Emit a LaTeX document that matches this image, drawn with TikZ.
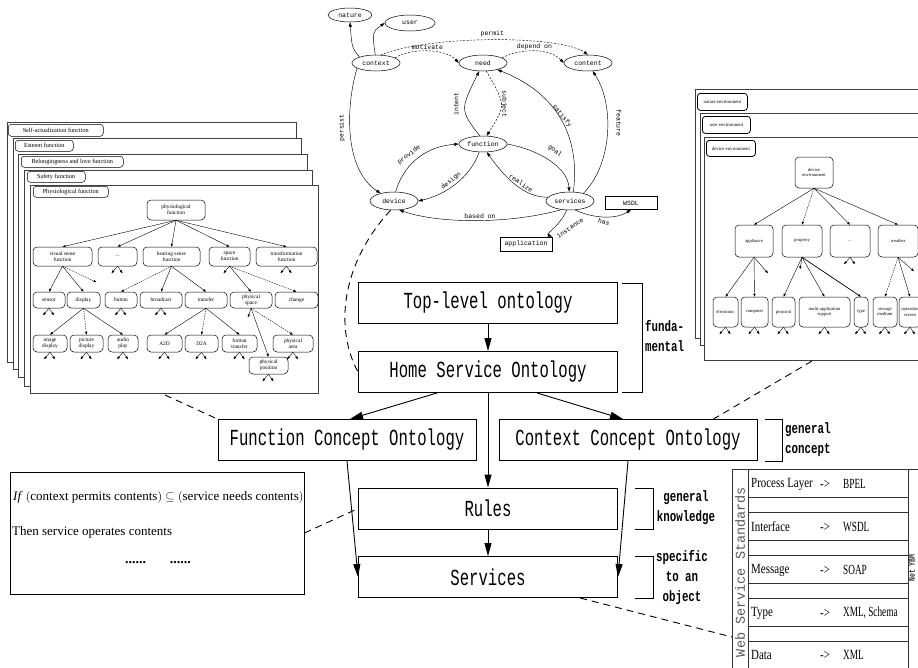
\documentclass[tikz,border=0pt]{standalone}
\usepackage{fontspec}
\setmainfont{Liberation Serif}
\newfontfamily\monoc[FakeStretch=0.68]{Liberation Mono}
\newfontfamily\monob[FakeStretch=0.72]{Liberation Mono Bold}
\newfontfamily\monot{Liberation Mono}
\newfontfamily\serc[FakeStretch=0.78]{Liberation Serif}
\newfontfamily\sercc[FakeStretch=0.66]{Liberation Serif}
\usetikzlibrary{arrows.meta,shapes.geometric}
\tikzset{
  mainbox/.style={draw, line width=0.9pt, minimum width=259pt, minimum height=41pt, inner sep=0pt, font=\monoc\fontsize{23}{25}\selectfont},
  arr/.style={line width=0.9pt, -{Triangle[length=13pt,width=7pt]}},
  brk/.style={line width=0.9pt},
  blbl/.style={font=\monob\fontsize{15}{20}\selectfont, inner sep=0pt},
  link/.style={dashed, dash pattern=on 7pt off 5pt, line width=0.9pt},
  gnode/.style={draw, ellipse, line width=0.5pt, minimum width=48pt, minimum height=16pt, inner sep=0pt, font=\monot\fontsize{6.5}{7}\selectfont},
  grect/.style={draw, line width=0.5pt, minimum width=52pt, minimum height=14pt, inner sep=0pt, font=\monot\fontsize{6.5}{7}\selectfont},
  garr/.style={line width=0.45pt, -{Triangle[length=4.5pt,width=3pt]}},
  gdash/.style={garr, dashed, dash pattern=on 2pt off 1.5pt},
  glbl/.style={font=\monot\fontsize{6.5}{7}\selectfont, inner sep=0pt},
  page/.style={draw=black!75, line width=0.6pt, fill=white},
  tab/.style={draw, rounded corners=3pt, line width=0.5pt, inner sep=0pt, anchor=north west, font=\fontsize{6.2}{7}\selectfont},
  rtab/.style={tab, line width=0.8pt, font=\fontsize{4.8}{5}\selectfont},
  tbox/.style={draw, rounded corners=4pt, line width=0.5pt, inner sep=0.5pt, align=center, font=\fontsize{5.4}{6}\selectfont},
  rbox/.style={tbox, font=\fontsize{4.6}{5.4}\selectfont},
  tarr/.style={line width=0.4pt, -{Triangle[length=3pt,width=2.2pt]}},
  tdash/.style={tarr, dashed, dash pattern=on 1.5pt off 1pt},
  trow/.style={anchor=west, inner sep=0pt, font=\serc\fontsize{14}{15}\selectfont},
  tval/.style={anchor=west, inner sep=0pt, font=\sercc\fontsize{14}{15}\selectfont},
}
\newcommand{\stubs}[1]{\draw[tarr] (#1.south) -- ++(-6,7); \draw[tarr] (#1.south) -- ++(5,7);}
\begin{document}
\begin{tikzpicture}[x=1pt,y=-1pt]
\useasboundingbox (0,0) rectangle (918,667);
\fill[white] (0,0) rectangle (918,667);

% ===== main boxes =====
\node[mainbox] (top) at (488,303) {Top-level ontology};
\node[mainbox] (home) at (488,372) {Home Service Ontology};
\node[mainbox, minimum width=258pt] (func) at (347,440) {Function Concept Ontology};
\node[mainbox, minimum width=258pt] (ctx) at (628,440) {Context Concept Ontology};
\node[mainbox] (rules) at (488,508.5) {Rules};
\node[mainbox] (serv) at (488,577) {Services};

\draw[arr] (top) -- (home);
\draw[arr] ([xshift=-51pt]home.south) -- ([xshift=3pt]func.north);
\draw[arr] ([xshift=49pt]home.south) -- ([xshift=-5pt]ctx.north);
\draw[arr] (home) -- (rules);
\draw[arr] (rules) -- (serv);
\draw[arr] (func.south) -- (serv.west);
\draw[arr] (ctx.south) -- (serv.east);

% brackets
\draw[brk] (622,283) -- (642,283) -- (642,392) -- (622,392);
\node[blbl, anchor=west, align=left] (lf) at (645,336) {funda-\\mental};
\draw[brk] (765,419) -- (782,419) -- (782,461) -- (765,461);
\node[blbl, anchor=west, align=left] (lg) at (785,440) {general\\concept};
\draw[brk] (635,488) -- (653,488) -- (653,529) -- (635,529);
\node[blbl, align=center] (lk) at (686,508) {general\\knowledge};
\draw[brk] (635,556) -- (653,556) -- (653,598) -- (635,598);
\node[blbl, align=center] (ls) at (682,578) {specific\\to an\\object};

% ===== rule box =====
\node[draw, line width=0.8pt, minimum width=294pt, minimum height=122pt, inner sep=0pt] (rulebox) at (157,533) {};
\node[anchor=west, inner sep=0pt, font=\fontsize{13}{14}\selectfont] (r1) at (13,497) {\textit{If} $\left(\mbox{context permits contents}\right)\subseteq\left(\mbox{service needs contents}\right)$};
\node[anchor=west, inner sep=0pt, font=\fontsize{13}{14}\selectfont] (r2) at (12,532) {Then service operates contents};
\node[inner sep=0pt, font=\bfseries\fontsize{14}{14}\selectfont] (r3) at (158,563) {......\hspace{24pt}......};
\draw[link] (rulebox.east) -- (rules.west);

% ===== web service standards table =====
\draw[line width=0.7pt, black!80] (732,469) -- (930,469);
\draw[line width=0.7pt, black!80] (732,469) -- (732,680);
\draw[line width=0.7pt, black!80] (748,469) -- (748,680);
\draw[line width=0.7pt, black!80] (908,469) -- (908,680);
\foreach \yy in {497,512,540,555,583,598,626,641} {\draw[line width=0.6pt, black!80] (748,\yy) -- (908,\yy);}
\coordinate (tbl) at (732,637);
\node[rotate=90, font=\monot\fontsize{13.5}{14}\selectfont, text=black!65, inner sep=0pt] (wss) at (740,572) {Web Service Standards};
\node[rotate=90, font=\monob\fontsize{9}{10}\selectfont, text=black!80, inner sep=0pt] (nety) at (912,568) {Net YBM};
\node[trow] (p1) at (751,484) {Process Layer};
\node[trow] (p2) at (751,527) {Interface};
\node[trow] (p3) at (751,570) {Message};
\node[trow] (p4) at (751,613) {Type};
\node[trow] (p5) at (751,655) {Data};
\foreach \yy/\tt in {484/BPEL,527/WSDL,570/SOAP,613/{XML, Schema},655/XML} {
  \node[trow] at (820,\yy) {->};
  \node[tval] at (843,\yy) {\tt};
}
\draw[link] ([xshift=92pt]serv.south) -- (tbl);

% ===== left stacked pages =====
\draw[page] (7,122) rectangle (296,362);
\draw[page] (13,138) rectangle (301,369);
\draw[page] (18,154) rectangle (307,377);
\draw[page] (24,170) rectangle (312,386);
\draw[page] (30,185) rectangle (318,393);
\node[tab, minimum width=95pt, minimum height=12pt] (t1) at (8,124) {Self-actualization function};
\node[tab, minimum width=58pt, minimum height=11pt] (t2) at (15,140) {Esteem function};
\node[tab, minimum width=102pt, minimum height=11pt] (t3) at (21,156) {Belongingness and love function};
\node[tab, minimum width=58pt, minimum height=11pt] (t4) at (27,171) {Safety function};
\node[tab, minimum width=75pt, minimum height=11pt] (t5) at (33,186) {Physiological function};

\node[tbox, minimum width=58pt, minimum height=20pt] (root) at (176,210) {physiological\\function};
\node[tbox, minimum width=59pt, minimum height=19pt] (vis) at (62.5,256.5) {visual sense\\function};
\node[tbox, minimum width=39pt, minimum height=19pt] (dd1) at (117.5,256.5) {...};
\node[tbox, minimum width=57pt, minimum height=19pt] (hear) at (171.5,256.5) {hearing sense\\function};
\node[tbox, minimum width=41pt, minimum height=19pt] (space) at (229.5,256.5) {space\\function};
\node[tbox, minimum width=61pt, minimum height=19pt] (trans) at (286.5,256.5) {transformation\\function};
\foreach \n in {vis,dd1,hear,space,trans} {\draw[tarr] (root.south) -- (\n.north);}

\node[tbox, minimum width=32pt, minimum height=16pt] (sensor) at (49,300) {sensor};
\node[tbox, minimum width=33pt, minimum height=16pt] (display) at (83.5,300) {display};
\node[tbox, minimum width=32pt, minimum height=16pt] (button) at (121,300) {button};
\node[tbox, minimum width=42pt, minimum height=16pt] (bcast) at (161,300) {broadcast};
\node[tbox, minimum width=42pt, minimum height=16pt] (transfer) at (206,300) {transfer};
\node[tbox, minimum width=42pt, minimum height=16pt] (pspace) at (251,300) {physical\\space};
\node[tbox, minimum width=43pt, minimum height=16pt] (change) at (296.5,300) {change};
\draw[tarr] (vis.south) -- (sensor.north);
\draw[tarr] (vis.south) -- (display.north);
\draw[tdash] (vis.south) -- ++(34,16);
\stubs{dd1}
\draw[tdash] (hear.south) -- (button.north);
\draw[tarr] (hear.south) -- (bcast.north);
\draw[tarr] (hear.south) -- (transfer.north);
\draw[tarr] (space.south) -- ++(-6,7);
\draw[tarr] (space.south) -- (pspace.north);
\draw[tdash] (space.south) -- (change.north);
\stubs{trans}
\stubs{sensor}
\stubs{button}
\stubs{bcast}

\node[tbox, minimum width=34pt, minimum height=17pt] (imgd) at (50,343.5) {image\\display};
\node[tbox, minimum width=33pt, minimum height=17pt] (picd) at (86.5,343.5) {picture\\display};
\node[tbox, minimum width=30pt, minimum height=17pt] (audio) at (123,343.5) {audio\\play};
\node[tbox, minimum width=35pt, minimum height=17pt] (a2d) at (164.5,343.5) {A2D};
\node[tbox, minimum width=33pt, minimum height=17pt] (d2a) at (201.5,343.5) {D2A};
\node[tbox, minimum width=35pt, minimum height=17pt] (fmt) at (239.5,343.5) {format\\transfer};
\node[tbox, minimum width=40pt, minimum height=17pt] (parea) at (293,343.5) {physical\\area};
\node[tbox, minimum width=39pt, minimum height=17pt] (ppos) at (268.5,365.5) {physical\\position};
\draw[tarr] (display.south) -- (imgd.north);
\draw[tdash] (display.south) -- (picd.north);
\draw[tarr] (display.south) -- (audio.north);
\draw[tarr] (transfer.south) -- (a2d.north);
\draw[tdash] (transfer.south) -- (d2a.north);
\draw[tarr] (transfer.south) -- (fmt.north);
\draw[tarr] (pspace.south) -- ++(-3,9);
\draw[tarr] (pspace.south) -- (ppos.north);
\draw[tdash] (pspace.south) -- (parea.north);
\foreach \n in {imgd,picd,audio,a2d,d2a,fmt,parea,ppos} {\stubs{\n}}
\draw[link] (165,395) -- (func.north west);

% ===== right stacked pages =====
\draw[page] (695,89) rectangle (940,338);
\draw[page] (700,113) rectangle (940,345);
\draw[page] (704,137) rectangle (940,360);
\node[rtab, minimum width=50pt, minimum height=17pt] (ra) at (697,93) {nature environment};
\node[rtab, minimum width=48pt, minimum height=17pt] (rb) at (702,116) {user environment};
\node[rtab, minimum width=49pt, minimum height=16pt] (rc) at (706,140) {device environment};
\node[rbox, minimum width=38pt, minimum height=31pt] (droot) at (814,172.5) {device\\environment};
\node[rbox, minimum width=38pt, minimum height=32pt] (appl) at (754,241) {appliance};
\node[rbox, minimum width=40pt, minimum height=32pt] (prop) at (802,241) {property};
\node[rbox, minimum width=40pt, minimum height=32pt] (dd2) at (850,241) {...};
\node[rbox, minimum width=40pt, minimum height=32pt] (weath) at (898,241) {weather};
\draw[tarr] (droot.south) -- (appl.north);
\draw[tdash] (droot.south) -- (prop.north);
\draw[tarr] (droot.south) -- (dd2.north);
\draw[tarr] (droot.south) -- (weath.north);
\node[rbox, minimum width=25pt, minimum height=30pt] (elec) at (725.5,312) {electronic};
\node[rbox, minimum width=27pt, minimum height=30pt] (comp) at (754.5,312) {computer};
\node[rbox, minimum width=23pt, minimum height=30pt] (proto) at (783.5,312) {protocol};
\node[rbox, minimum width=51pt, minimum height=30pt] (multi) at (824.5,312) {multi-application\\support};
\node[rbox, minimum width=14pt, minimum height=30pt] (typ) at (861,312) {type};
\node[rbox, minimum width=24pt, minimum height=30pt] (stor) at (885,312) {storage\\medium};
\node[rbox, minimum width=22pt, minimum height=30pt] (oper) at (910,312) {operation\\screen};
\draw[tarr] (appl.south) -- (elec.north);
\draw[tarr] (appl.south) -- (comp.north);
\draw[tarr] (appl.south) -- ++(14,16);
\draw[tarr] (prop.south) -- (proto.north);
\draw[tarr] (prop.south) -- ++(-2,12);
\draw[tarr] (prop.south) -- (multi.north);
\draw[tarr, line width=0.7pt] (prop.south) -- (typ.north);
\stubs{dd2}
\draw[tdash] (weath.south) -- (stor.north);
\draw[tarr] (weath.south) -- (oper.north);
\draw[tarr] (weath.south) -- ++(16,14);
\foreach \n in {elec,comp,proto,multi,typ,stor,oper} {\stubs{\n}}
\draw[link] (812,361) -- ([xshift=-44pt]ctx.north east);

% ===== top graph =====
\node[gnode, minimum width=44pt, minimum height=14pt] (nature) at (350,15) {nature};
\node[gnode, minimum width=50pt] (user) at (410,23) {user};
\node[gnode] (context) at (376,63) {context};
\node[gnode] (need) at (483,63) {need};
\node[gnode] (content) at (588,63) {content};
\node[gnode] (function) at (483,144) {function};
\node[gnode, minimum height=18pt] (device) at (394,201) {device};
\node[gnode, minimum height=18pt] (services) at (570,201) {services};
\node[grect] (appli) at (526,244) {application};
\node[grect, minimum height=13pt] (wsdl) at (631,203) {WSDL};

\draw[garr] (context.160) .. controls (352,48) .. (nature.south);
\draw[garr] (context.95) .. controls (372,32) .. (user.west);
\draw[gdash] (context.60) .. controls (430,35) and (560,35) .. (content.north) node[glbl, pos=0.5, above=3pt] {permit};
\draw[gdash] (context.15) .. controls (410,48) and (445,48) .. (need.west) node[glbl, pos=0.5, above=1pt] {motivate};
\draw[gdash] (need.15) .. controls (520,48) and (550,48) .. (content.west) node[glbl, pos=0.5, above=1pt] {depend on};
\draw[garr] (function.112) .. controls (460,110) .. (need.245);
\node[glbl, rotate=90] (lint) at (456,104) {intent};
\draw[gdash] (need.292) .. controls (506,105) .. (function.66);
\node[glbl, rotate=-90] (lsub) at (504,104) {subject};
\draw[garr] (services.70) .. controls (582,125) and (545,88) .. (need.-25);
\node[glbl, rotate=-52] (lsat) at (562,116) {satisfy};
\draw[garr] (services.30) .. controls (612,165) and (615,105) .. (content.-60);
\node[glbl, rotate=-90] (lfea) at (619,123) {feature};
\draw[garr] (context.195) .. controls (345,110) and (345,170) .. (device.150);
\node[glbl, rotate=90] (lper) at (342,128) {persist};
\draw[garr] (device.80) .. controls (405,160) and (430,146) .. (function.west);
\node[glbl, rotate=38] (lpro) at (409,155) {provide};
\draw[garr] (function.245) .. controls (470,178) and (445,195) .. (device.east);
\node[glbl, rotate=40] (ldes) at (451,181) {design};
\draw[garr] (function.east) .. controls (540,150) and (568,168) .. (services.95);
\node[glbl, rotate=-40] (lgoal) at (555,151) {goal};
\draw[garr] (services.170) .. controls (525,198) and (505,178) .. (function.295);
\node[glbl, rotate=-35] (lrea) at (521,183) {realize};
\draw[garr] (services.225) .. controls (510,224) and (440,224) .. (device.-60);
\node[glbl] (lbas) at (480,216) {based on};
\draw[garr] (services.250) .. controls (560,226) and (545,234) .. (appli.north east);
\node[glbl, rotate=35] (lins) at (570,228) {instance};
\draw[garr] (services.-60) .. controls (592,218) and (615,220) .. (wsdl.south);
\node[glbl, rotate=-20] (lhas) at (604,222) {has};

\draw[link] (device.250) .. controls (340,265) and (335,330) .. (home.west);
\end{tikzpicture}
\end{document}
